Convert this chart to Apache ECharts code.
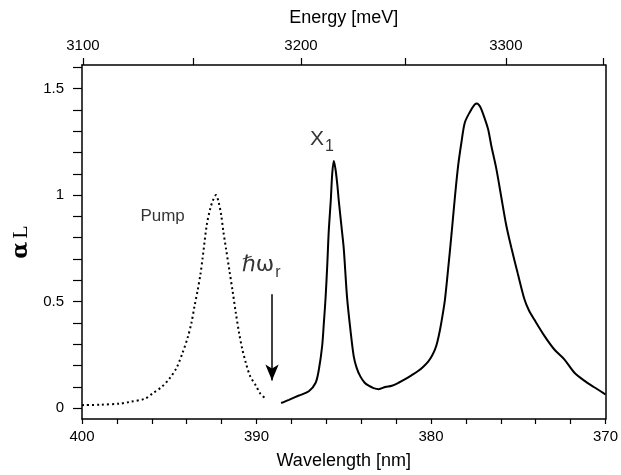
<!DOCTYPE html>
<html>
<head>
<meta charset="utf-8">
<script src="https://cdn.jsdelivr.net/npm/echarts@6/dist/echarts.min.js"></script>
<style>
  html, body { margin: 0; padding: 0; background: #fff; }
  #chart { width: 621px; height: 475px; }
</style>
</head>
<body>
<div id="chart"></div>
<script>
// wavelength [nm] / alpha*L pairs
const pumpCurve = [
  [400.0, 0.015], [398.97, 0.017], [397.83, 0.022], [397.26, 0.03], [396.4, 0.045],
  [395.95, 0.07], [395.44, 0.10], [394.98, 0.14], [394.58, 0.19], [394.24, 0.26],
  [393.95, 0.33], [393.73, 0.40], [393.55, 0.48], [393.38, 0.55], [393.21, 0.63],
  [393.08, 0.71], [392.85, 0.86], [392.64, 0.94], [392.47, 0.98], [392.32, 1.0],
  [392.18, 0.97], [392.03, 0.91], [391.90, 0.83], [391.75, 0.75], [391.56, 0.65],
  [391.37, 0.55], [391.19, 0.45], [390.99, 0.35], [390.82, 0.28], [390.60, 0.21],
  [390.36, 0.15], [390.03, 0.106], [389.79, 0.07], [389.46, 0.045]
]
const absCurve = [
  [388.59, 0.025], [388.14, 0.04], [387.57, 0.06], [387.00, 0.08], [386.61, 0.12],
  [386.43, 0.18], [386.24, 0.29], [386.14, 0.40], [386.04, 0.52], [385.94, 0.68],
  [385.86, 0.83], [385.74, 0.98], [385.66, 1.10], [385.57, 1.16], [385.47, 1.12],
  [385.37, 1.05], [385.28, 0.97], [385.14, 0.86], [385.00, 0.75], [384.81, 0.52],
  [384.62, 0.37], [384.43, 0.245], [384.26, 0.19], [384.05, 0.15], [383.80, 0.12],
  [383.57, 0.106], [383.29, 0.095], [383.00, 0.09], [382.62, 0.10], [382.24, 0.106],
  [381.86, 0.12], [381.48, 0.137], [381.12, 0.155], [380.72, 0.176], [380.44, 0.195],
  [380.15, 0.22], [379.95, 0.245], [379.77, 0.276], [379.64, 0.31], [379.48, 0.37],
  [379.35, 0.43], [379.20, 0.51], [379.01, 0.66], [378.82, 0.82], [378.63, 0.99],
  [378.44, 1.14], [378.25, 1.25], [378.06, 1.34], [377.77, 1.39], [377.49, 1.425],
  [377.36, 1.43], [377.19, 1.415], [377.01, 1.38], [376.73, 1.31], [376.54, 1.23],
  [376.26, 1.125], [375.97, 0.99], [375.69, 0.86], [375.40, 0.755], [375.02, 0.63],
  [374.64, 0.51], [374.39, 0.46], [374.07, 0.415], [373.50, 0.34], [372.93, 0.276],
  [372.36, 0.23], [371.79, 0.168], [371.22, 0.13], [370.64, 0.099], [370.28, 0.08],
  [370.0, 0.065]
]
const yTicks = [0, 0.1, 0.2, 0.3, 0.4, 0.5, 0.6, 0.7, 0.8, 0.9, 1.0, 1.1, 1.2, 1.3, 1.4, 1.5, 1.6]
const yLabels = [0, 0.5, 1, 1.5]
const energyTicks = [3100, 3150, 3200, 3250, 3300, 3350]
const energyLabels = [3100, 3200, 3300]
const arrowAt = [389.11, 0.535, 0.13] // wavelength, from, to
const notes = [
  { name: 'pump', value: [395.38, 0.90] },
  { name: 'x1', value: [386.25, 1.26] },
  { name: 'hw', value: [389.73, 0.67] }
]

const HC = 1239842 // meV * nm
// top axis runs on -wavelength so it reads left to right like the bottom one
const toNegWl = e => -HC / e
const font = 'Liberation Sans'

let chart = echarts.init(document.getElementById('chart'))
let option = {
  animation: false,
  grid: { left: 82, right: 13, top: 65, bottom: 51 },
  xAxis: [
    {
      type: 'value',
      min: 370,
      max: 400,
      inverse: true,
      interval: 2,
      position: 'bottom',
      name: 'Wavelength [nm]',
      nameLocation: 'middle',
      nameGap: 33,
      nameTextStyle: { fontFamily: font, fontSize: 18, color: '#000' },
      axisLine: { onZero: false, lineStyle: { color: '#000', width: 1.5 } },
      axisTick: { inside: false, length: 5, lineStyle: { color: '#000', width: 1.2 } },
      axisLabel: {
        margin: 10,
        fontFamily: font,
        fontSize: 15,
        color: '#000',
        formatter: v => (v % 10 === 0 ? String(v) : '')
      },
      splitLine: { show: false }
    },
    {
      type: 'value',
      min: -400,
      max: -370,
      position: 'top',
      name: 'Energy [meV]',
      nameLocation: 'middle',
      nameGap: 38,
      nameTextStyle: { fontFamily: font, fontSize: 18, color: '#000' },
      axisLine: { show: true, onZero: false, lineStyle: { color: '#000', width: 1.5 } },
      axisTick: {
        show: true,
        length: 7,
        customValues: energyTicks.map(toNegWl),
        lineStyle: { color: '#000', width: 1.2 }
      },
      axisLabel: {
        show: true,
        margin: 12,
        fontFamily: font,
        fontSize: 15,
        color: '#000',
        customValues: energyLabels.map(toNegWl),
        formatter: v => String(Math.round(-HC / v))
      },
      splitLine: { show: false }
    }
  ],
  yAxis: [
    {
      type: 'value',
      min: -0.05,
      max: 1.61,
      name: '{a|α}{l|L}',
      nameLocation: 'middle',
      nameRotate: 90,
      nameGap: 46,
      nameTextStyle: {
        rich: {
          a: { fontFamily: 'DejaVu Serif', fontWeight: 'bold', fontSize: 22, color: '#000' },
          l: { fontFamily: 'Liberation Serif', fontSize: 22, color: '#000', padding: [0, 0, 0, 3] }
        }
      },
      axisLine: { show: true, onZero: false, lineStyle: { color: '#000', width: 1.5 } },
      axisTick: {
        length: 9,
        customValues: yTicks,
        lineStyle: { color: '#000', width: 1.2 }
      },
      axisLabel: {
        margin: 18,
        fontFamily: font,
        fontSize: 15,
        color: '#000',
        customValues: yLabels,
        formatter: v => String(v)
      },
      splitLine: { show: false }
    },
    {
      type: 'value',
      min: -0.05,
      max: 1.61,
      position: 'right',
      axisLine: { show: true, onZero: false, lineStyle: { color: '#000', width: 1.5 } },
      axisTick: { show: false },
      axisLabel: { show: false },
      splitLine: { show: false }
    }
  ],
  series: [
    {
      name: 'Pump',
      type: 'line',
      data: pumpCurve,
      smooth: 0.3,
      showSymbol: false,
      lineStyle: { color: '#000', width: 2, type: [2, 3] }
    },
    {
      name: 'alphaL',
      type: 'line',
      data: absCurve,
      smooth: 0.3,
      showSymbol: false,
      lineStyle: { color: '#000', width: 2 }
    },
    {
      // arrow under hbar omega_r
      name: 'arrow',
      type: 'line',
      data: [],
      markLine: {
        silent: true,
        symbol: ['none', 'arrow'],
        symbolSize: [10, 16],
        label: { show: false },
        lineStyle: { color: '#000', width: 1.5, type: 'solid' },
        data: [[{ coord: [arrowAt[0], arrowAt[1]] }, { coord: [arrowAt[0], arrowAt[2]] }]]
      }
    },
    {
      name: 'notes',
      type: 'scatter',
      symbolSize: 0,
      data: notes,
      label: {
        show: true,
        position: 'inside',
        color: '#000',
        formatter: p => {
          if (p.name === 'pump') return '{p|Pump}'
          if (p.name === 'x1') return '{x|X}{s|1}'
          return '{h|ℏω}{s|r}'
        },
        rich: {
          p: { fontFamily: font, fontSize: 17, color: '#000' },
          x: { fontFamily: font, fontSize: 21, color: '#000' },
          h: { fontFamily: 'DejaVu Sans', fontSize: 22, color: '#000' },
          s: { fontFamily: font, fontSize: 16, color: '#000', padding: [14, 0, 0, 1] }
        }
      }
    }
  ]
}
chart.setOption(option)
window.addEventListener('resize', () => chart.resize())
</script>
</body>
</html>
